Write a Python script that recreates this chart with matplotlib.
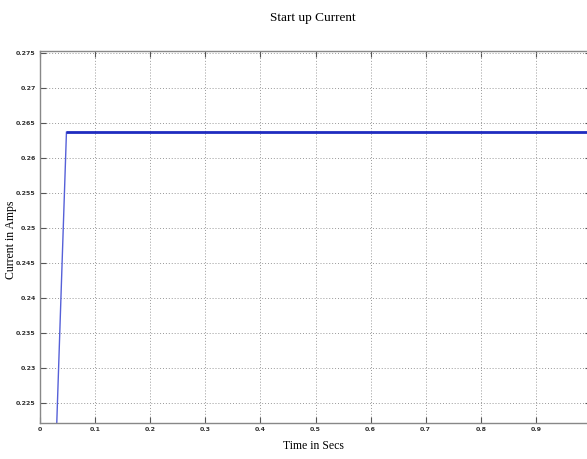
import matplotlib
matplotlib.use("Agg")
import matplotlib.pyplot as plt

# data
time_s = [0.0295, 0.048, 0.2, 0.4, 0.6, 0.8, 1.0]
current_a = [0.2200, 0.2637, 0.2637, 0.2637, 0.2637, 0.2637, 0.2637]
xticks = [0, 0.1, 0.2, 0.3, 0.4, 0.5, 0.6, 0.7, 0.8, 0.9]
xticklabels = ["0", "0.1", "0.2", "0.3", "0.4", "0.5", "0.6", "0.7", "0.8", "0.9"]
yticks = [0.225, 0.23, 0.235, 0.24, 0.245, 0.25, 0.255, 0.26, 0.265, 0.27, 0.275]
yticklabels = ["0.225", "0.23", "0.235", "0.24", "0.245", "0.25", "0.255", "0.26", "0.265", "0.27", "0.275"]

W, H = 587, 459
fig = plt.figure(figsize=(W/100, H/100), dpi=100)
left, right, top, bottom = 40, 591, 51, 423
ax = fig.add_axes([left/W, 1-bottom/H, (right-left)/W, (bottom-top)/H])

# rise segment (thin, lighter) and plateau (thicker, dark)
ax.plot(time_s[:2], current_a[:2], color="#5560d8", lw=1.0)
ax.plot(time_s[1:], current_a[1:], color="#1f2cc0", lw=2.0, solid_capstyle="butt")

ax.set_xlim(0, 1.0)
ax.set_ylim(0.2222, 0.2753)
ax.set_xticks(xticks)
ax.set_xticklabels(xticklabels)
ax.set_yticks(yticks)
ax.set_yticklabels(yticklabels)
for lab in ax.get_xticklabels() + ax.get_yticklabels():
    lab.set_fontfamily(["Liberation Sans Narrow", "DejaVu Sans"])
    lab.set_fontsize(4.5)
    lab.set_fontweight("bold")
    lab.set_color("#333333")
ax.tick_params(direction="in", length=4, width=0.8, color="#555555", top=True, right=True, pad=3)
ax.grid(True, linestyle=(0, (1, 2)), color="#999999", linewidth=0.7)
for s in ax.spines.values():
    s.set_color("#888888")
    s.set_linewidth(1.0)

serif = ["Liberation Serif", "DejaVu Serif"]
fig.text(313/W, 1 - 18/H, "Start up Current", ha="center", va="center",
         fontsize=9.5, family=serif)
fig.text(313/W, 1 - 446/H, "Time in Secs", ha="center", va="center", fontsize=8.5, family=serif)
fig.text(11/W, 1 - 240/H, "Current in Amps", ha="center", va="center", rotation=90,
         fontsize=8.5, family=serif)

fig.savefig("out.png", dpi=100)
